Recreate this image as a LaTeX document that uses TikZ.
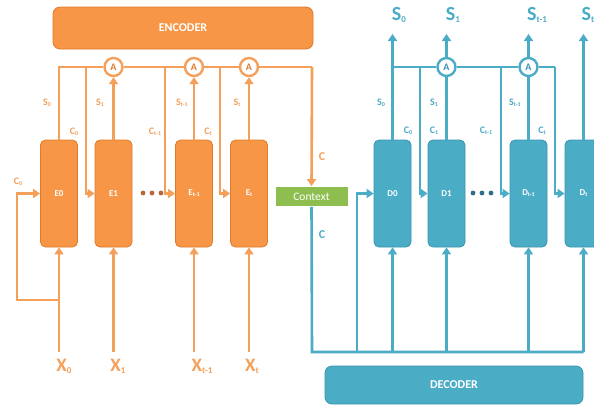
\documentclass[tikz,border=0pt]{standalone}
\usepackage{fontspec}
\setmainfont{Carlito}
\usetikzlibrary{arrows.meta}
\definecolor{eor}{HTML}{F79646}
\definecolor{eord}{HTML}{E07B2C}
\definecolor{eline}{HTML}{F5A05A}
\definecolor{edot}{HTML}{B8653A}
\definecolor{dbl}{HTML}{4BACC6}
\definecolor{dbld}{HTML}{3A94AE}
\definecolor{ddot}{HTML}{2E6F85}
\definecolor{ctxg}{HTML}{8DBE4F}
\newcommand\mysub[2]{#1\raisebox{-0.15em}{\fontsize{#2}{#2}\selectfont\kern0.05em}}
\newcommand\lowsub[2]{\raisebox{-0.2ex}{\fontsize{#1}{#1}\selectfont #2}}
\tikzset{
  eln/.style={draw=eline, line width=2.6pt},
  dln/.style={draw=dbl, line width=2.6pt},
  arr/.style={-{Triangle[length=7pt,width=9pt]}},
  ebox/.style={draw=eord, fill=eor, rounded corners=5pt, minimum width=37pt, minimum height=107pt, text=white, font=\bfseries\fontsize{9}{10}\selectfont, line width=0.8pt, inner sep=0pt},
  dbox/.style={draw=dbld, fill=dbl, rounded corners=5pt, minimum width=37pt, minimum height=107pt, text=white, font=\bfseries\fontsize{9}{10}\selectfont, line width=0.8pt, inner sep=0pt},
  eattn/.style={circle, draw=eline, fill=white, line width=2.4pt, minimum size=18pt, inner sep=0pt, text=eord, font=\bfseries\fontsize{10}{11}\selectfont},
  dattn/.style={circle, draw=dbl, fill=white, line width=2.4pt, minimum size=18pt, inner sep=0pt, text=dbld, font=\bfseries\fontsize{10}{11}\selectfont},
  elab/.style={text=eline, font=\bfseries\fontsize{10}{11}\selectfont, inner sep=0pt},
  dlab/.style={text=dbl, font=\bfseries\fontsize{10}{11}\selectfont, inner sep=0pt},
  xlab/.style={text=eline, font=\bfseries\fontsize{19}{21}\selectfont, inner sep=0pt},
  slab/.style={text=dbl, font=\bfseries\fontsize{20}{22}\selectfont, inner sep=0pt},
  bigbox/.style={rounded corners=7pt, text=white, font=\bfseries\fontsize{12}{14}\selectfont, inner sep=0pt, line width=0.8pt},
  ctxbox/.style={fill=ctxg, draw=white, line width=0.8pt, text=white, minimum width=73pt, minimum height=20pt, inner sep=0pt, font=\fontsize{11.5}{12}\selectfont},
  edots/.style={fill=edot, draw=none},
  ddots/.style={fill=ddot, draw=none}
}
\begin{document}
\begin{tikzpicture}[x=1pt,y=-1pt]
\useasboundingbox (0,0) rectangle (594,405);
\clip (0,0) rectangle (594,405);
\fill[white] (0,0) rectangle (594,405);

% ===== ENCODER =====
\node[bigbox, fill=eor, draw=eord, minimum width=260pt, minimum height=42pt] (ENC) at (183,28) {ENCODER};

\node[ebox] (E0) at (59,193.5) {E0};
\node[ebox] (E1) at (113.5,193.5) {E1};
\node[ebox] (Et1) at (194,193.5) {E\lowsub{6}{t-1}};
\node[ebox] (Et) at (249,193.5) {E\lowsub{6}{t}};

\node[eattn] (A1) at (113.5,67) {A};
\node[eattn] (A2) at (194,67) {A};
\node[eattn] (A3) at (249,67) {A};

\node[ctxbox] (CTX) at (311.5,196.5) {Context};

\coordinate (eb0) at (59,67);
\coordinate (ec1) at (86,67);
\coordinate (ec2) at (165,67);
\coordinate (ec3) at (220,67);
\coordinate (eb5) at (312,67);

% top bar
\draw[eln] (E0.north) -- (eb0) -- (A1.west);
\draw[eln] (A1.east) -- (A2.west);
\draw[eln] (A2.east) -- (A3.west);
\draw[eln] (A3.east) -- (eb5);
\draw[eln,arr] (eb5) -- (CTX.north);
% C lines into cells
\draw[eln,arr] (ec1) |- (E1.west);
\draw[eln,arr] (ec2) |- (Et1.west);
\draw[eln,arr] (ec3) |- (Et.west);
% S lines into attention
\draw[eln,arr] (E1.north) -- (A1.south);
\draw[eln,arr] (Et1.north) -- (A2.south);
\draw[eln,arr] (Et.north) -- (A3.south);

% inputs
\coordinate (x0) at (59,352);
\coordinate (x1) at (113.5,352);
\coordinate (x2) at (194,352);
\coordinate (x3) at (249,352);
\coordinate (lp) at (59,300);
\coordinate (lp2) at (17,300);
\draw[eln,arr] (x0) -- (E0.south);
\draw[eln,arr] (x1) -- (E1.south);
\draw[eln,arr] (x2) -- (Et1.south);
\draw[eln,arr] (x3) -- (Et.south);
\draw[eln,arr] (lp) -- (lp2) |- (E0.west);

% dots
\fill[edots] (143,193) circle (2.4pt);
\fill[edots] (152,193) circle (2.4pt);
\fill[edots] (161,193) circle (2.4pt);

% labels
\node[xlab] (X0) at (64,366) {X\lowsub{9}{0}};
\node[xlab] (X1) at (118,366) {X\lowsub{9}{1}};
\node[xlab] (X2) at (202,366) {X\lowsub{9}{t-1}};
\node[xlab] (X3) at (252,366) {X\lowsub{9}{t}};

\node[elab] at (47,103) {S\lowsub{6}{0}};
\node[elab] at (74,132) {C\lowsub{6}{0}};
\node[elab] at (100,103) {S\lowsub{6}{1}};
\node[elab] at (155,132) {C\lowsub{6}{t-1}};
\node[elab] at (182,103) {S\lowsub{6}{t-1}};
\node[elab] at (208,132) {C\lowsub{6}{t}};
\node[elab] at (237,103) {S\lowsub{6}{t}};
\node[elab] at (18,182) {C\lowsub{6}{0}};
\node[elab, font=\bfseries\fontsize{12}{13}\selectfont] at (322,157) {C};

% ===== DECODER =====
\node[bigbox, fill=dbl, draw=dbld, minimum width=258pt, minimum height=38pt] (DEC) at (454,385) {DECODER};

\node[dbox] (D0) at (392.5,193.5) {D0};
\node[dbox] (D1) at (446.5,193.5) {D1};
\node[dbox] (Dt1) at (528.5,193.5) {D\lowsub{6}{t-1}};
\node[dbox] (Dt) at (583.5,193.5) {D\lowsub{6}{t}};

\node[dattn] (B1) at (446.5,67) {A};
\node[dattn] (B2) at (528.5,67) {A};

\coordinate (db0) at (392.5,67);
\coordinate (dc1) at (420,67);
\coordinate (dc2) at (501,67);
\coordinate (db5) at (555,67);
\coordinate (so0) at (392.5,34);
\coordinate (so1) at (446.5,34);
\coordinate (so2) at (528.5,34);
\coordinate (so3) at (583.5,34);

\draw[dln,arr] (D0.north) -- (so0);
\draw[dln] (db0) -- (B1.west);
\draw[dln] (B1.east) -- (B2.west);
\draw[dln] (B2.east) -- (db5);
\draw[dln,arr] (db5) |- (Dt.west);
\draw[dln,arr] (dc1) |- (D1.west);
\draw[dln,arr] (dc2) |- (Dt1.west);
\draw[dln] (D1.north) -- (B1.south);
\draw[dln,arr] (B1.north) -- (so1);
\draw[dln] (Dt1.north) -- (B2.south);
\draw[dln,arr] (B2.north) -- (so2);
\draw[dln,arr] (Dt.north) -- (so3);

% bottom bus from context
\coordinate (cb) at (312,352);
\coordinate (b0) at (357,352);
\coordinate (b1) at (392.5,352);
\coordinate (b2) at (446.5,352);
\coordinate (b3) at (528.5,352);
\coordinate (b4) at (583.5,352);
\draw[dln] (CTX.south) -- (cb) -- (b4);
\draw[dln,arr] (b0) |- (D0.west);
\draw[dln,arr] (b1) -- (D0.south);
\draw[dln,arr] (b2) -- (D1.south);
\draw[dln,arr] (b3) -- (Dt1.south);
\draw[dln,arr] (b4) -- (Dt.south);

% dots
\fill[ddots] (473,193) circle (2.4pt);
\fill[ddots] (482,193) circle (2.4pt);
\fill[ddots] (491,193) circle (2.4pt);

% labels
\node[slab] at (399,15) {S\lowsub{9}{0}};
\node[slab] at (453,15) {S\lowsub{9}{1}};
\node[slab] at (537,15) {S\lowsub{9}{t-1}};
\node[slab] at (588,15) {S\lowsub{9}{t}};

\node[dlab] at (381,103) {S\lowsub{6}{0}};
\node[dlab] at (408,131) {C\lowsub{6}{0}};
\node[dlab] at (434,103) {S\lowsub{6}{1}};
\node[dlab] at (434,131) {C\lowsub{6}{1}};
\node[dlab] at (486,131) {C\lowsub{6}{t-1}};
\node[dlab] at (515,103) {S\lowsub{6}{t-1}};
\node[dlab] at (542,131) {C\lowsub{6}{t}};
\node[dlab, font=\bfseries\fontsize{12}{13}\selectfont] at (322,235) {C};
\end{tikzpicture}
\end{document}
